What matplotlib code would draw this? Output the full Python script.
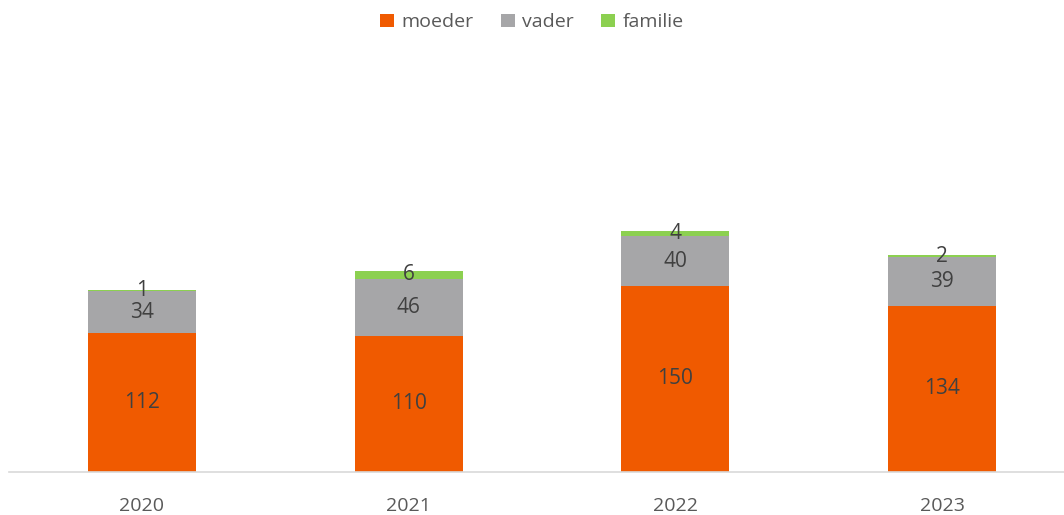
import matplotlib
matplotlib.use('Agg')
import matplotlib.pyplot as plt
import numpy as np

plt.rcParams['font.family'] = ['Open Sans', 'DejaVu Sans']

YEARS = ["2020", "2021", "2022", "2023"]
MOEDER = [112, 110, 150, 134]
VADER = [34, 46, 40, 39]
FAMILIE = [1, 6, 4, 2]

COLORS = {"moeder": "#F05A00", "vader": "#A6A6A8", "familie": "#8CD050"}


def main():
    fig = plt.figure(figsize=(10.64, 5.15), dpi=100)
    ax = fig.add_axes([8.5 / 1064, 43 / 515, 1067 / 1064, 372 / 515])

    x = np.arange(len(YEARS))
    width = 0.405
    bottom = np.zeros(len(YEARS))
    for name, vals in [("moeder", MOEDER), ("vader", VADER), ("familie", FAMILIE)]:
        vals = np.array(vals)
        ax.bar(x, vals, width, bottom=bottom, color=COLORS[name], label=name)
        for xi, b, v in zip(x, bottom, vals):
            ax.text(xi, b + v / 2, f"{v}", ha="center", va="center",
                    fontsize=15, color="#404040")
        bottom = bottom + vals

    ax.set_xlim(-0.5, 3.5)
    ax.set_ylim(0, 300)
    ax.set_xticks(x)
    ax.set_xticklabels(YEARS, fontsize=14, color="#595959")
    ax.tick_params(axis="x", length=0, pad=18)
    ax.set_yticks([])
    for side in ["top", "right", "left"]:
        ax.spines[side].set_visible(False)
    ax.spines["bottom"].set_color("#D9D9D9")
    ax.spines["bottom"].set_linewidth(1.2)

    leg = fig.legend(loc="upper center", bbox_to_anchor=(0.5, 1.008), ncol=3,
                     frameon=False, fontsize=14, handlelength=0.7,
                     handleheight=0.7, handletextpad=0.4, columnspacing=1.4)
    for t in leg.get_texts():
        t.set_color("#595959")

    fig.savefig("out.png", dpi=100)


if __name__ == "__main__":
    main()
